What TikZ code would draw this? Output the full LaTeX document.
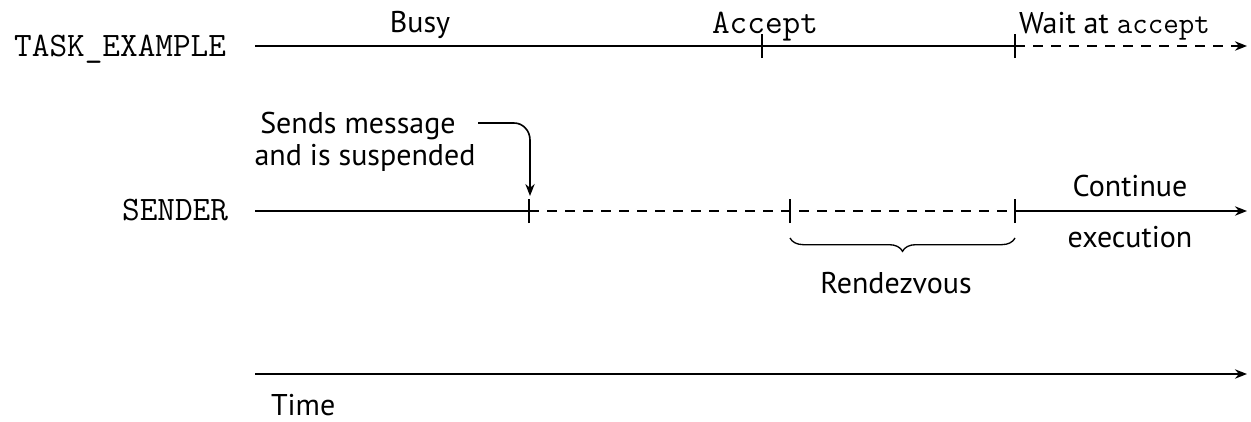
\documentclass[tikz,border=0pt]{standalone}
\usepackage{fontspec}
\setmainfont{PT Sans}
\usetikzlibrary{arrows.meta,decorations.pathreplacing}
\begin{document}
\begin{tikzpicture}[x=0.75pt,y=-0.75pt,
  every node/.style={inner sep=0pt,outer sep=0pt},
  lbl/.style={font=\fontsize{22.5}{26}\selectfont},
  mono/.style={font=\ttfamily\fontsize{25.7}{28}\selectfont},
  tl/.style={line width=1.5pt},
  dsh/.style={tl,dash pattern=on 7.5pt off 6pt},
  arr/.style={-{Stealth[length=9pt,width=7pt]}},
  tick/.style={line width=1pt}]
\useasboundingbox (0,0) rectangle (1251,421);
% labels
\node[mono,anchor=base east] (task) at (226,56) {TASK\_EXAMPLE};
\node[mono,anchor=base east] (sender) at (228,220) {SENDER};
% coordinates
\coordinate (t0) at (255,46);
\coordinate (t1) at (762,46);
\coordinate (t2) at (1015,46);
\coordinate (t3) at (1247,46);
\coordinate (s0) at (255,211);
\coordinate (s1) at (529,211);
\coordinate (s2) at (790,211);
\coordinate (s3) at (1015,211);
\coordinate (s4) at (1247,211);
\coordinate (m0) at (255,374);
\coordinate (m1) at (1247,374);
% task line
\draw[tl] (t0) -- (t2);
\draw[dsh,arr] (t2) -- (t3);
\foreach \c in {t1,t2}{\draw[tick] ([yshift=-9]\c) -- ([yshift=9]\c);}
% sender line
\draw[tl] (s0) -- (s1);
\draw[dsh] (s1) -- (s3);
\draw[tl,arr] (s3) -- (s4);
\foreach \c in {s1,s2,s3}{\draw[tick] ([yshift=-9]\c) -- ([yshift=9]\c);}
% time line
\draw[tl,arr] (m0) -- (m1);
% texts
\node[lbl,anchor=base] (busy) at (420,32) {Busy};
\node[mono,anchor=base] (accept) at (765,33) {Accept};
\node[lbl,anchor=base west] (wait) at (1019,33) {Wait at {\ttfamily\fontsize{22.6}{26}\selectfont accept}};
\node[lbl,anchor=base] (sends) at (358,133) {Sends message};
\node[lbl,anchor=base] (susp) at (365,165) {and is suspended};
\node[lbl,anchor=base] (cont) at (1130,196) {Continue};
\node[lbl,anchor=base] (exec) at (1130,247) {execution};
\node[lbl,anchor=base] (rdv) at (896,293) {Rendezvous};
\node[lbl,anchor=base west] (time) at (271,415) {Time};
% arrow from text
\coordinate (a0) at (478,123);
\coordinate (a1) at (530,196);
\draw[line width=1.2pt,arr] (a0) -- (514,123) to[out=0,in=90] (530,140) -- (a1);
% brace
\coordinate (b0) at (790,238);
\coordinate (b1) at (1015,238);
\draw[line width=1pt,decorate,decoration={brace,mirror,amplitude=10pt}] (b0) -- (b1);
\end{tikzpicture}
\end{document}
